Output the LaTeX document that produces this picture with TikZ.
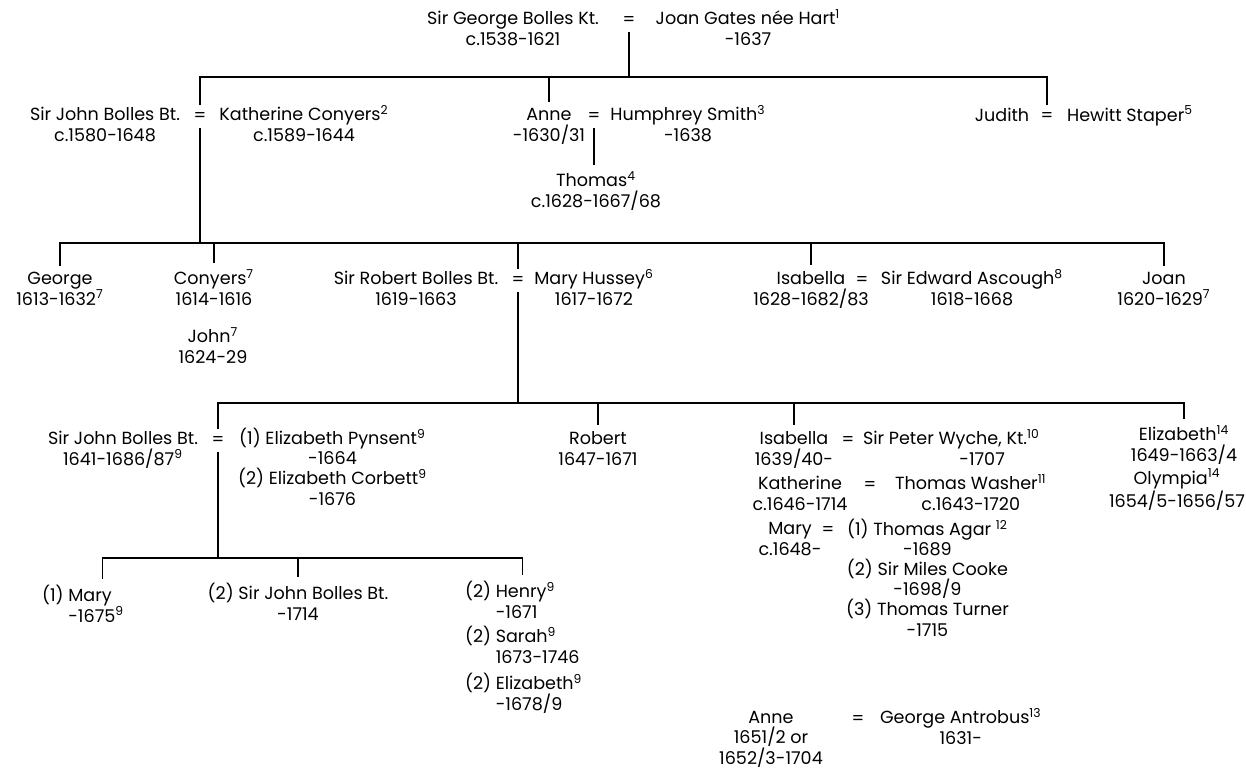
\documentclass[tikz,border=0pt]{standalone}
\usepackage{fontspec}
\setmainfont{Poppins}
\usepackage{tikz}

\begin{document}
\begin{tikzpicture}[x=0.02cm, y=-0.02cm, thick,
        every node/.style={font=\fontsize{10}{11.4}\selectfont, inner sep=0pt},
        person/.style={align=center, anchor=base, outer sep=4pt},
        spouse/.style={align=center, anchor=base west, outer sep=4pt},
        kid/.style={align=left, anchor=base west, outer sep=4pt},
        eqs/.style={anchor=base, outer sep=4pt}]
        \useasboundingbox (0,0) rectangle (1246,768);

        \node [person] (gb) at (513,45) {Sir George Bolles Kt.\\c.1538-1621};
        \node [eqs] (e0) at (629,25) {=};
        \node [person] (jg) at (748,45) {Joan Gates née Hart\textsuperscript{1}\\-1637};

        \node [person] (sj1) at (105,141) {Sir John Bolles Bt.\\c.1580-1648};
        \node [eqs] (e1) at (200,121) {=};
        \node [person] (kc) at (304,141) {Katherine Conyers\textsuperscript{2}\\c.1589-1644};
        \node [person] (an) at (549,141) {Anne\\-1630/31};
        \node [eqs] (e2) at (594,121) {=};
        \node [person] (hs) at (688,141) {Humphrey Smith\textsuperscript{3}\\-1638};
        \node [person] (th) at (596,207) {Thomas\textsuperscript{4}\\c.1628-1667/68};
        \node [person] (ju) at (1002,121) {Judith};
        \node [eqs] (e3) at (1047,121) {=};
        \node [person] (hw) at (1130,121) {Hewitt Staper\textsuperscript{5}};

        \node [person] (ge) at (60,305) {George\\1613-1632\textsuperscript{7}};
        \node [person] (cy) at (214,305) {Conyers\textsuperscript{7}\\1614-1616};
        \node [person] (jo) at (213,363) {John\textsuperscript{7}\\1624-29};
        \node [person] (rb) at (416,305) {Sir Robert Bolles Bt.\\1619-1663};
        \node [eqs] (e4) at (518,285) {=};
        \node [person] (mh) at (594,305) {Mary Hussey\textsuperscript{6}\\1617-1672};
        \node [person] (is) at (811,305) {Isabella\\1628-1682/83};
        \node [eqs] (e5) at (862,285) {=};
        \node [person] (ea) at (972,305) {Sir Edward Ascough\textsuperscript{8}\\1618-1668};
        \node [person] (jn) at (1164,305) {Joan\\1620-1629\textsuperscript{7}};

        \node [person] (sj3) at (123,465) {Sir John Bolles Bt.\\1641-1686/87\textsuperscript{9}};
        \node [eqs] (e6) at (218,445) {=};
        \node [spouse] (wv) at (231,505) {(1) Elizabeth Pynsent\textsuperscript{9}\\-1664\\(2) Elizabeth Corbett\textsuperscript{9}\\-1676};
        \node [person] (ro) at (598,465) {Robert\\1647-1671};
        \node [person] (is3) at (794,465) {Isabella\\1639/40-};
        \node [eqs] (e7) at (848,445) {=};
        \node [spouse] (pw) at (856,465) {Sir Peter Wyche, Kt.\textsuperscript{10}\\\hspace*{3.5em}-1707};
        \node [person] (ka) at (800,510) {Katherine\\c.1646-1714};
        \node [eqs] (e8) at (870,490) {=};
        \node [spouse] (tw) at (888,510) {Thomas Washer\textsuperscript{11}\\c.1643-1720};
        \node [person] (my) at (790,555) {Mary\\c.1648-};
        \node [eqs] (e9) at (828,535) {=};
        \node [spouse] (ag) at (839,636) {(1) Thomas Agar \textsuperscript{12}\\-1689\\(2) Sir Miles Cooke\\-1698/9\\(3) Thomas Turner\\-1715};
        \node [person] (ez) at (1184,461) {Elizabeth\textsuperscript{14}\\1649-1663/4};
        \node [person] (ol) at (1177,507) {Olympia\textsuperscript{14}\\1654/5-1656/57};
        \node [person] (an5) at (771,764) {Anne\\1651/2 or\\1652/3-1704};
        \node [eqs] (e10) at (858,724) {=};
        \node [spouse] (ga) at (873,744) {George Antrobus\textsuperscript{13}\\1631-};

        \node [kid] (m4) at (35,622) {(1) Mary\\\hphantom{(1) }-1675\textsuperscript{9}};
        \node [person] (sj4) at (298,620) {(2) Sir John Bolles Bt.\\-1714};
        \node [kid] (hy) at (458,618) {(2) Henry\textsuperscript{9}\\\hphantom{(2) }-1671};
        \node [kid] (sa) at (458,663) {(2) Sarah\textsuperscript{9}\\\hphantom{(2) }1673-1746};
        \node [kid] (el) at (458,710) {(2) Elizabeth\textsuperscript{9}\\\hphantom{(2) }-1678/9};

        \coordinate (b1) at (0,77);
        \coordinate (b2) at (0,243);
        \coordinate (b3) at (0,403);
        \coordinate (b4) at (0,558);

        \draw (e0.south) -- (e0.south |- b1);
        \draw (e1.north) |- (e3.north |- b1) -- (e3.north);
        \draw (an.north) -- (an.north |- b1);
        \draw (e2.south) -- (e2.south |- th.north);

        \draw (e1.south) -- (e1.south |- b2);
        \draw (ge.north) |- (jn.north |- b2) -- (jn.north);
        \draw (cy.north) -- (cy.north |- b2);
        \draw (e4.north) -- (e4.north |- b2);
        \draw (is.north) -- (is.north |- b2);

        \draw (e4.south) -- (e4.south |- b3);
        \draw (e6.north) |- (ez.north |- b3) -- (ez.north);
        \draw (ro.north) -- (ro.north |- b3);
        \draw (is3.north) -- (is3.north |- b3);

        \draw (e6.south) -- (e6.south |- b4);
        \draw ([xshift=11pt]m4.north) |- ([xshift=7pt]hy.north |- b4) -- ([xshift=7pt]hy.north);
        \draw (sj4.north) -- (sj4.north |- b4);
    \end{tikzpicture}
\end{document}
